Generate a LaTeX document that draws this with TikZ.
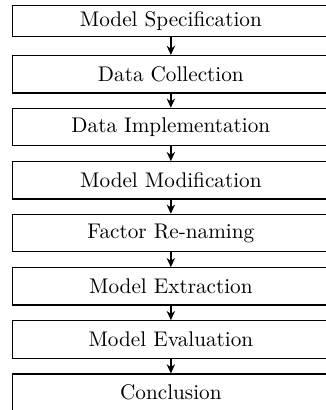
\documentclass[tikz,border=0pt]{standalone}
\usetikzlibrary{arrows.meta}
\begin{document}
\begin{tikzpicture}[x=0.5pt,y=-0.5pt,
  stagebox/.style={draw, line width=0.55pt, minimum width=158.15pt, inner sep=0pt, font=\fontsize{10.6}{12}\selectfont},
  flow/.style={-{Stealth[length=4.6pt,width=4.2pt]}, line width=0.65pt}]
\useasboundingbox (0,0) rectangle (325,410);
\node[stagebox, minimum height=15.4pt] (s1) at (170.85,21.1) {Model Specification};
\node[stagebox, minimum height=18.75pt] (s2) at (170.85,74.25) {Data Collection};
\node[stagebox, minimum height=18.7pt] (s3) at (170.85,127) {Data Implementation};
\node[stagebox, minimum height=18.65pt] (s4) at (170.85,180.35) {Model Modification};
\node[stagebox, minimum height=18.7pt] (s5) at (170.85,233) {Factor Re-naming};
\node[stagebox, minimum height=18.65pt] (s6) at (170.85,286.35) {Model Extraction};
\node[stagebox, minimum height=18.8pt] (s7) at (170.85,339.5) {Model Evaluation};
\node[stagebox, minimum height=18.7pt] (s8) at (170.85,392.7) {Conclusion};
\foreach \a/\b in {s1/s2,s2/s3,s3/s4,s4/s5,s5/s6,s6/s7,s7/s8}
  \draw[flow] (\a.south) -- (\b.north);
\end{tikzpicture}
\end{document}
